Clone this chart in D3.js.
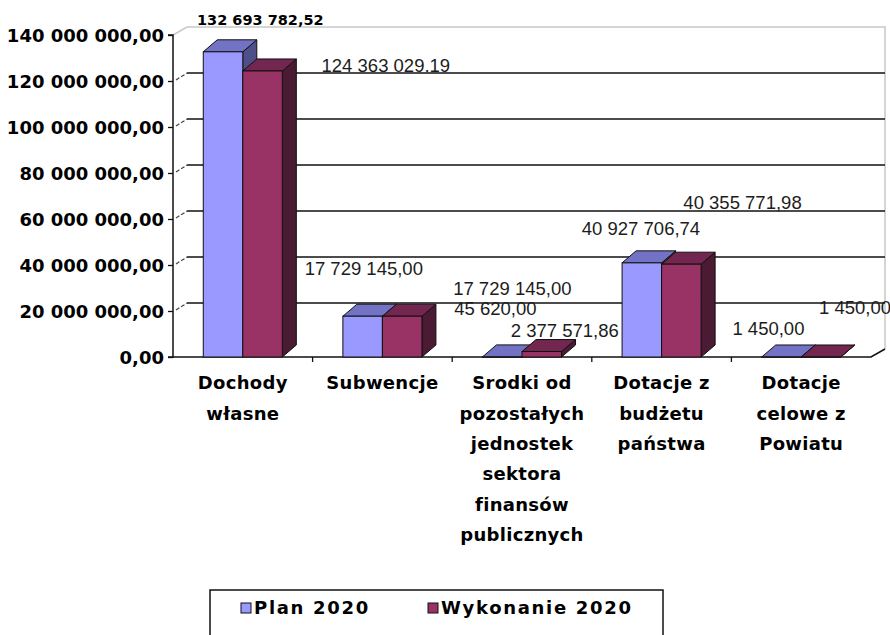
<!DOCTYPE html>
<html><head><meta charset="utf-8">
<script src="https://cdn.jsdelivr.net/npm/d3@7"></script>
<style>
html,body{margin:0;padding:0;background:#fff;}
svg{display:block;}
</style></head>
<body>
<svg id="chart" width="890" height="635"></svg>
<script>
// ---- data ----
const categories = ["Dochody własne", "Subwencje", "Srodki od pozostałych jednostek sektora finansów publicznych", "Dotacje z budżetu państwa", "Dotacje celowe z Powiatu"];
const categoryLines = [["Dochody","własne"],["Subwencje"],["Srodki od","pozostałych","jednostek","sektora","finansów","publicznych"],["Dotacje z","budżetu","państwa"],["Dotacje","celowe z","Powiatu"]];
const seriesNames = ["Plan 2020", "Wykonanie 2020"];
const plan2020 = [132693782.52, 17729145.00, 45620.00, 40927706.74, 1450.00];
const wykonanie2020 = [124363029.19, 17729145.00, 2377571.86, 40355771.98, 1450.00];
const planLabels = ["132 693 782,52", "17 729 145,00", "45 620,00", "40 927 706,74", "1 450,00"];
const wykLabels = ["124 363 029.19", "17 729 145,00", "2 377 571,86", "40 355 771,98", "1 450,00"];
const yTicks = [0, 20e6, 40e6, 60e6, 80e6, 100e6, 120e6, 140e6];
const yTickLabels = ["0,00", "20 000 000,00", "40 000 000,00", "60 000 000,00", "80 000 000,00", "100 000 000,00", "120 000 000,00", "140 000 000,00"];

// ---- layout / style ----
const svg = d3.select("#chart");
const x0 = 173, x1 = 871, yBase = 357, yTop = 35;
const wallDx = 14, wallDy = -8;   // back wall offset
const barDx = 14, barDy = -12;    // bar depth
const colors = {
  plan: {front: "#9999ff", top: "#7373c6", side: "#4f4f8a"},
  wyk:  {front: "#993366", top: "#722650", side: "#4b1a33"}
};
// label offsets (pixels): start-x relative to bar centre, centre-y relative to bar top (labels moved by hand in source)
const planLabelOff = [[-26, -32], [-58, -47.5], [-48, -48.2], [-60, -34.2], [-49, -28.3]];
const wykLabelOff  = [[59, -5], [51, -27.5], [-31, -21.2], [2, -61.2], [-2, -49]];

const y = d3.scaleLinear().domain([0, 140e6]).range([yBase, yTop]);
const x = d3.scaleBand().domain(categories).range([x0, x1]).paddingInner(0).paddingOuter(0);
const xs = d3.scaleBand().domain(seriesNames).range([0, x.bandwidth()]).paddingInner(0).paddingOuter(0.766);

// back wall outline (light gray)
const wall = svg.append("g");
wall.append("path")
  .attr("d", `M${x0},${y(140e6)} L${x0+wallDx},${y(140e6)+wallDy} L${x1+wallDx},${y(140e6)+wallDy} L${x1+wallDx},${yBase+wallDy}`)
  .attr("fill", "none").attr("stroke", "#c8c8c8").attr("stroke-width", 1.5);

// gridlines on back wall
yTicks.filter(v => v > 0 && v < 140e6).forEach(v => {
  wall.append("line")
    .attr("x1", x0 + wallDx).attr("x2", x1 + wallDx)
    .attr("y1", y(v) + wallDy).attr("y2", y(v) + wallDy)
    .attr("stroke", "#111").attr("stroke-width", 1.6);
  wall.append("line")
    .attr("x1", x0 + 3).attr("x2", x0 + wallDx)
    .attr("y1", y(v) - 1).attr("y2", y(v) + wallDy)
    .attr("stroke", "#444").attr("stroke-width", 1.2).attr("stroke-dasharray", "4,2");
});

// floor
svg.append("path")
  .attr("d", `M${x0},${yBase} L${x1},${yBase} L${x1+wallDx},${yBase+wallDy}`)
  .attr("fill", "none").attr("stroke", "#111").attr("stroke-width", 1.6);

// category ticks
svg.append("g").selectAll("line").data(categories.slice(1)).join("line")
  .attr("x1", d => x(d)).attr("x2", d => x(d))
  .attr("y1", yBase).attr("y2", yBase + 5)
  .attr("stroke", "#111").attr("stroke-width", 1.3);

// Y axis
const axis = d3.axisLeft(y).tickValues(yTicks).tickSize(5).tickPadding(4)
  .tickFormat((d, i) => yTickLabels[i]);
const ga = svg.append("g").attr("transform", `translate(${x0},0)`).call(axis);
ga.select(".domain").attr("stroke", "#111").attr("stroke-width", 1.5).attr("d", `M-5,${y(140e6)}H0V${yBase}H-5`);
ga.selectAll(".tick line").attr("stroke", "#111").attr("stroke-width", 1.3);
ga.selectAll(".tick text")
  .attr("font-family", "DejaVu Sans").attr("font-weight", "bold").attr("font-size", 18)
  .attr("fill", "#000").attr("dy", "0.35em");

// bars
function bar3d(g, bx, w, v, c) {
  const yt = y(v);
  g.append("path")
    .attr("d", `M${bx+w},${yt} L${bx+w+barDx},${yt+barDy} L${bx+w+barDx},${yBase+barDy} L${bx+w},${yBase} Z`)
    .attr("fill", c.side).attr("stroke", "#111").attr("stroke-width", 1);
  g.append("path")
    .attr("d", `M${bx},${yt} L${bx+barDx},${yt+barDy} L${bx+w+barDx},${yt+barDy} L${bx+w},${yt} Z`)
    .attr("fill", c.top).attr("stroke", "#111").attr("stroke-width", 1);
  g.append("rect")
    .attr("x", bx).attr("y", yt).attr("width", w).attr("height", Math.max(0, yBase - yt))
    .attr("fill", c.front).attr("stroke", "#111").attr("stroke-width", 1);
}
const bars = svg.append("g");
categories.forEach((cat, i) => {
  const w = xs.bandwidth();
  bar3d(bars, x(cat) + xs(seriesNames[0]), w, plan2020[i], colors.plan);
  bar3d(bars, x(cat) + xs(seriesNames[1]), w, wykonanie2020[i], colors.wyk);
});

// data labels
const lbl = svg.append("g");
categories.forEach((cat, i) => {
  const w = xs.bandwidth();
  const pcx = x(cat) + xs(seriesNames[0]) + w / 2;
  const wcx = x(cat) + xs(seriesNames[1]) + w / 2;
  const pt = lbl.append("text")
    .attr("x", pcx + planLabelOff[i][0]).attr("y", y(plan2020[i]) + planLabelOff[i][1])
    .attr("dy", "0.35em").text(planLabels[i]);
  if (i === 0) {
    pt.attr("font-family", "DejaVu Sans").attr("font-weight", "bold").attr("font-size", 14.5).attr("fill", "#000");
  } else {
    pt.attr("font-family", "Liberation Sans, Arial").attr("font-size", 18.5).attr("fill", "#1c1c1c");
  }
  lbl.append("text")
    .attr("x", wcx + wykLabelOff[i][0]).attr("y", y(wykonanie2020[i]) + wykLabelOff[i][1])
    .attr("dy", "0.35em").attr("font-family", "Liberation Sans, Arial").attr("font-size", 18.5)
    .attr("fill", "#1c1c1c").text(wykLabels[i]);
});

// category labels
const cl = svg.append("g");
categories.forEach((cat, i) => {
  const t = cl.append("text")
    .attr("x", x(cat) + x.bandwidth() / 2).attr("y", 383)
    .attr("text-anchor", "middle").attr("font-family", "DejaVu Sans").attr("font-weight", "bold")
    .attr("font-size", 18).attr("letter-spacing", 0.3).attr("fill", "#000");
  categoryLines[i].forEach((line, j) => {
    t.append("tspan").attr("x", x(cat) + x.bandwidth() / 2).attr("y", 383 + j * 30.3).attr("dy", "0.35em").text(line);
  });
});

// legend
const lg = svg.append("g");
lg.append("rect").attr("x", 210).attr("y", 590).attr("width", 453).attr("height", 60)
  .attr("fill", "#fff").attr("stroke", "#111").attr("stroke-width", 1.5);
const legendX = [241, 428];
seriesNames.forEach((s, i) => {
  const c = i === 0 ? colors.plan.front : colors.wyk.front;
  lg.append("rect").attr("x", legendX[i]).attr("y", 603).attr("width", 10).attr("height", 10)
    .attr("fill", c).attr("stroke", "#111").attr("stroke-width", 1);
  lg.append("text").attr("x", legendX[i] + 13).attr("y", 608).attr("dy", "0.35em")
    .attr("font-family", "DejaVu Sans").attr("font-weight", "bold").attr("font-size", 18)
    .attr("letter-spacing", 1.7).attr("fill", "#000").text(s);
});
</script>
</body></html>
